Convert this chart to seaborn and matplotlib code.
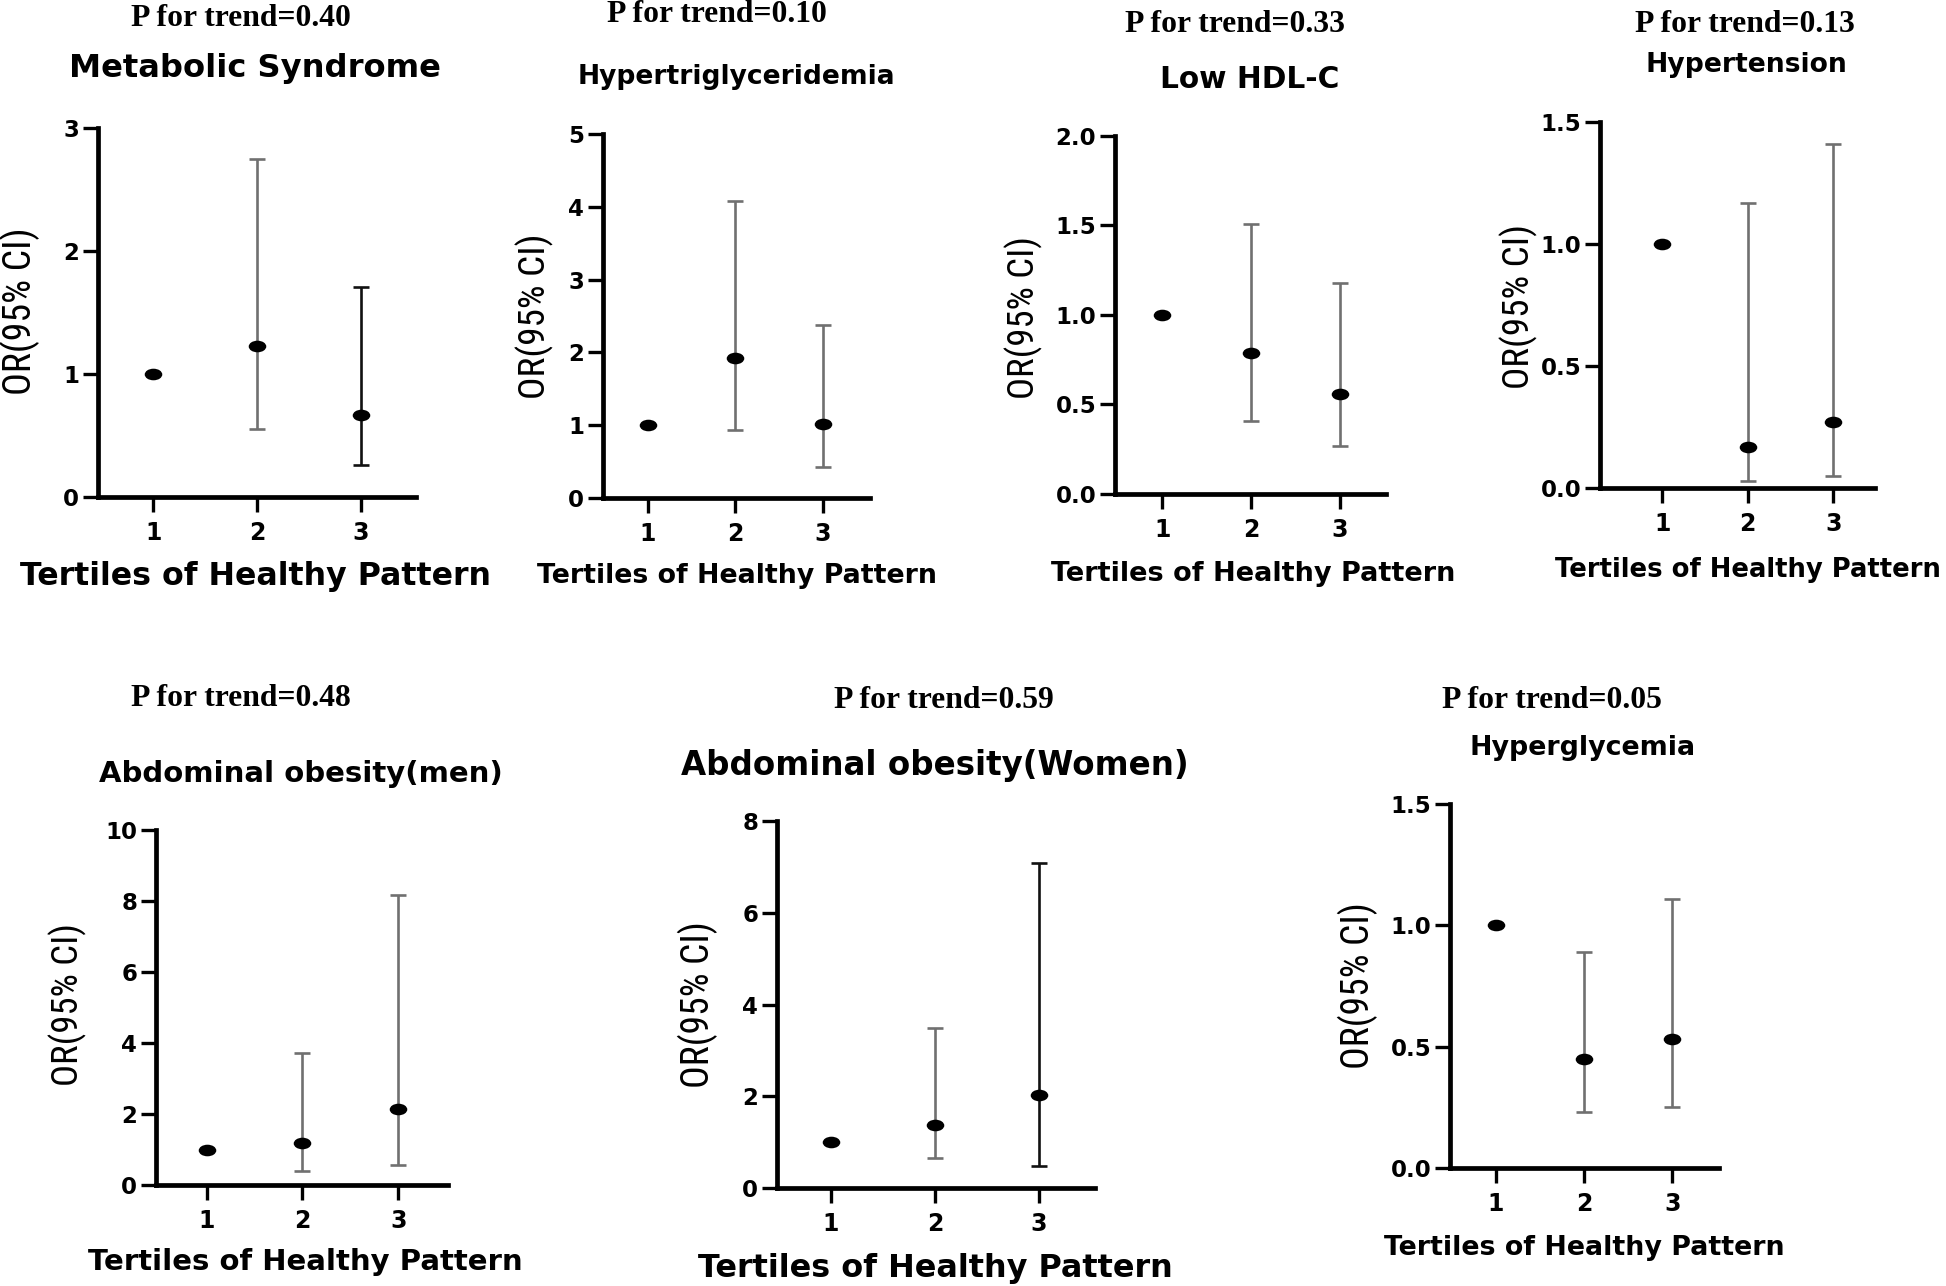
import numpy as np
import pandas as pd
import matplotlib
matplotlib.use("Agg")
import matplotlib.pyplot as plt
import seaborn as sns
from matplotlib import font_manager
from matplotlib.path import Path
from matplotlib.transforms import Affine2D
from matplotlib.ticker import MultipleLocator, FormatStrFormatter

# ---- data ----
outcomes = ["Metabolic Syndrome", "Hypertriglyceridemia", "Low HDL-C", "Hypertension",
            "Abdominal obesity(men)", "Abdominal obesity(Women)", "Hyperglycemia"]
p_trend = ["0.40", "0.10", "0.33", "0.13", "0.48", "0.59", "0.05"]
tertiles = [1, 2, 3]
or_estimate = [
    [1.00, 1.23, 0.67],
    [1.00, 1.92, 1.02],
    [1.00, 0.79, 0.56],
    [1.00, 0.17, 0.27],
    [1.00, 1.18, 2.15],
    [1.00, 1.37, 2.02],
    [1.00, 0.45, 0.53],
]
ci_lower = [
    [None, 0.55, 0.26],
    [None, 0.93, 0.43],
    [None, 0.41, 0.27],
    [None, 0.03, 0.05],
    [None, 0.39, 0.55],
    [None, 0.65, 0.47],
    [None, 0.23, 0.25],
]
ci_upper = [
    [None, 2.75, 1.71],
    [None, 4.08, 2.37],
    [None, 1.51, 1.18],
    [None, 1.17, 1.41],
    [None, 3.71, 8.18],
    [None, 3.49, 7.08],
    [None, 0.89, 1.11],
]
y_max = [3, 5, 2.0, 1.5, 10, 8, 1.5]
y_step = [1, 1, 0.5, 0.5, 2, 2, 0.5]
y_decimals = [0, 0, 1, 1, 0, 0, 1]

# ---- layout (pixels of the 1946x1286 canvas) ----
W, H = 1946, 1286
# left, right, top, bottom of each plotting area
axes_box = [(98, 416, 128, 497), (603, 870, 134, 498), (1115, 1386, 136, 494),
            (1600, 1875, 122, 488), (156, 448, 830, 1185), (777, 1095, 821, 1188),
            (1450, 1719, 804, 1168)]
x_limits = [(0.47, 3.53), (0.49, 3.54), (0.47, 3.52), (0.27, 3.49),
            (0.47, 3.52), (0.48, 3.54), (0.48, 3.53)]
p_pos = [(241, 19), (717, 15), (1235, 25), (1745, 25), (241, 698), (944, 700), (1552, 700)]
title_pos = [(255, 69), (736, 77), (1250, 80), (1746, 65), (301, 774), (935, 766), (1583, 748)]
title_w = [371, 318, 179, 202, 404, 508, 227]
xlabel_pos = [(256, 576), (737, 576), (1253, 574), (1748, 570), (305, 1262), (935, 1268), (1584, 1248)]
xlabel_w = [473, 400, 404, 387, 435, 476, 402]
ylabel_pos = [(20, 311), (535, 316), (1024, 318), (1519, 306), (68, 1005), (698, 1005), (1358, 986)]
ylabel_h = [168, 166, 163, 165, 163, 167, 167]
bar_colors = [("#707070", "#111111"), ("#707070", "#707070"), ("#707070", "#707070"),
              ("#707070", "#707070"), ("#707070", "#707070"), ("#707070", "#111111"),
              ("#707070", "#707070")]

sns.set_style("ticks")
plt.rcParams["font.family"] = ["DejaVu Sans"]
plt.rcParams.update({"text.color": "black", "axes.labelcolor": "black",
                     "xtick.color": "black", "ytick.color": "black"})

# the y-axis labels are squeezed in the original, so prefer a narrow face
installed = {f.name for f in font_manager.fontManager.ttflist}
narrow = next((f for f in ["Liberation Sans Narrow", "DejaVu Sans Condensed",
                           "Roboto Condensed", "Open Sans Condensed"] if f in installed),
              "DejaVu Sans")

# dots in the original are slightly flattened
dot = Path.unit_circle().transformed(Affine2D().scale(1.0, 0.66))

fig = plt.figure(figsize=(W / 100, H / 100), dpi=100)
renderer = fig.canvas.get_renderer()


def fit(t, size_px, vertical=False):
    bb = t.get_window_extent(renderer)
    cur = bb.height if vertical else bb.width
    t.set_fontsize(t.get_fontsize() * size_px / cur)


def fig_xy(x, y):
    return x / W, 1 - y / H


for i, name in enumerate(outcomes):
    l, r, t, b = axes_box[i]
    ax = fig.add_axes([l / W, 1 - b / H, (r - l) / W, (b - t) / H])

    df = pd.DataFrame({"tertile": tertiles, "OR": or_estimate[i],
                       "lo": ci_lower[i], "hi": ci_upper[i]})
    ci = df.dropna()
    for k, (_, row) in enumerate(ci.iterrows()):
        ax.errorbar(row["tertile"], row["OR"],
                    yerr=[[row["OR"] - row["lo"]], [row["hi"] - row["OR"]]],
                    fmt="none", ecolor=bar_colors[i][k], elinewidth=1.9,
                    capsize=5.5, capthick=1.9, zorder=2, clip_on=False)
    sns.scatterplot(data=df, x="tertile", y="OR", ax=ax, color="black", s=160,
                    marker=dot, edgecolor="black", linewidth=0, zorder=3, clip_on=False)

    ax.set_xlim(*x_limits[i])
    ax.set_ylim(0, y_max[i])
    ax.set_xticks(tertiles)
    ax.yaxis.set_major_locator(MultipleLocator(y_step[i]))
    ax.yaxis.set_major_formatter(FormatStrFormatter(f"%.{y_decimals[i]}f"))
    ax.set_xlabel("")
    ax.set_ylabel("")
    sns.despine(ax=ax)
    for side in ("left", "bottom"):
        ax.spines[side].set_linewidth(3.4)
        ax.spines[side].set_color("black")
    ax.tick_params(axis="y", length=11, width=2.4, pad=2.5, labelsize=16.5, color="black")
    ax.tick_params(axis="x", length=11, width=2.4, pad=6, labelsize=17, color="black")
    for lab in ax.get_xticklabels() + ax.get_yticklabels():
        lab.set_fontweight("bold")

    pt = fig.text(*fig_xy(*p_pos[i]), f"P for trend={p_trend[i]}", ha="center", va="center",
                  family=["Liberation Serif", "DejaVu Serif"], fontweight="bold", fontsize=20)
    fit(pt, 220)
    tt = fig.text(*fig_xy(*title_pos[i]), name, ha="center", va="center",
                  fontweight="bold", fontsize=20)
    fit(tt, title_w[i])
    xt = fig.text(*fig_xy(*xlabel_pos[i]), "Tertiles of Healthy Pattern", ha="center",
                  va="center", fontweight="bold", fontsize=20)
    fit(xt, xlabel_w[i])
    yt = fig.text(*fig_xy(*ylabel_pos[i]), "OR(95% CI)", ha="center", va="center",
                  rotation=90, family=[narrow, "DejaVu Sans"], fontsize=20)
    fit(yt, ylabel_h[i], vertical=True)

fig.savefig("out.png", dpi=100, facecolor="white")
